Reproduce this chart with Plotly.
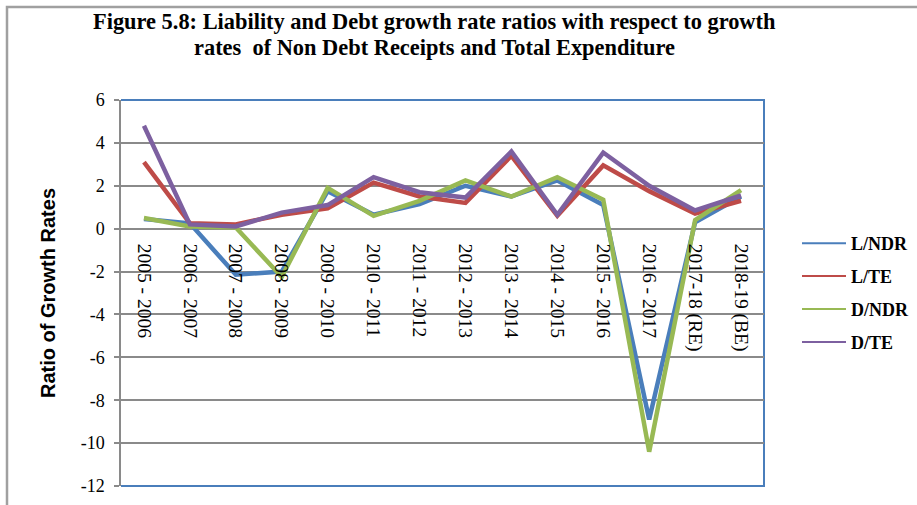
import plotly.graph_objects as go

# Financial years on the category axis
years = ["2005 - 2006", "2006 - 2007", "2007 - 2008", "2008 - 2009", "2009 - 2010",
         "2010 - 2011", "2011 - 2012", "2012 - 2013", "2013 - 2014", "2014 - 2015",
         "2015 - 2016", "2016 - 2017", "2017-18 (RE)", "2018-19 (BE)"]

# Ratio of growth rates for each series
l_ndr = [0.45, 0.25, -2.15, -2.0, 1.75, 0.65, 1.15, 2.0, 1.5, 2.25, 1.1, -8.9, 0.3, 1.5]
l_te = [3.1, 0.25, 0.2, 0.65, 0.95, 2.15, 1.5, 1.2, 3.4, 0.6, 2.95, 1.75, 0.7, 1.3]
d_ndr = [0.5, 0.1, 0.05, -2.25, 1.9, 0.6, 1.3, 2.25, 1.5, 2.4, 1.35, -10.4, 0.4, 1.8]
d_te = [4.8, 0.2, 0.1, 0.75, 1.1, 2.4, 1.7, 1.45, 3.6, 0.65, 3.55, 2.0, 0.85, 1.55]

series_names = ["L/NDR", "L/TE", "D/NDR", "D/TE"]
series_values = [l_ndr, l_te, d_ndr, d_te]
series_colors = ["#4a7ebb", "#be4b48", "#98b954", "#7d60a0"]

# y axis ticks (plain hyphen as the minus sign)
y_tick_vals = [6, 4, 2, 0, -2, -4, -6, -8, -10, -12]
y_tick_text = ["6", "4", "2", "0", "-2", "-4", "-6", "-8", "-10", "-12"]

title_lines = ["Figure 5.8: Liability and Debt growth rate ratios with respect to growth",
               "rates  of Non Debt Receipts and Total Expenditure"]

y_min, y_max = -12, 6

W, H = 917, 505
ML, MR, MT, MB = 121, 153, 100, 19
PW, PH = W - ML - MR, H - MT - MB


def px_x(p):
    return (p - ML) / PW


def px_y(p):
    return (H - MB - p) / PH


fig = go.Figure()

for name, vals, col in zip(series_names, series_values, series_colors):
    fig.add_trace(go.Scatter(x=years, y=vals, mode="lines", name=name,
                             line=dict(color=col, width=4.5), showlegend=False,
                             hoverinfo="x+y+name"))

# thin legend samples
for i, (name, col) in enumerate(zip(series_names, series_colors)):
    fig.add_trace(go.Scatter(x=[None], y=[None], mode="lines", name=name,
                             line=dict(color=col, width=2), legendgroup=f"g{i}",
                             showlegend=True))

serif = "Liberation Serif, Times New Roman, serif"

annotations = []
for text, cy in zip(title_lines, [22, 48]):
    annotations.append(dict(
        text=text, xref="paper", yref="paper", x=px_x(434), y=px_y(cy),
        xanchor="center", yanchor="middle", showarrow=False,
        font=dict(family=serif, size=22.4, color="black", weight="bold"),
    ))

fig.update_layout(
    width=W, height=H,
    margin=dict(l=ML, r=MR, t=MT, b=MB, autoexpand=False),
    paper_bgcolor="white", plot_bgcolor="white",
    annotations=annotations,
    xaxis=dict(
        type="category", range=[-0.5, len(years) - 0.5],
        anchor="free", position=(0 - y_min) / (y_max - y_min),
        tickangle=90, showgrid=False, showline=False, zeroline=False,
        ticks="", ticklabelstandoff=14, automargin=False,
        tickfont=dict(family=serif, size=19.5, color="black"),
    ),
    yaxis=dict(
        range=[y_min, y_max], tickvals=y_tick_vals, ticktext=y_tick_text,
        showgrid=True, gridcolor="#8a8a8a", gridwidth=1.5,
        zeroline=False, showline=True, linecolor="#8a8a8a", linewidth=1.5,
        ticks="outside", ticklen=5, tickcolor="#8a8a8a", tickwidth=1.5,
        ticklabelstandoff=6, automargin=False,
        tickfont=dict(family=serif, size=18, color="black"),
        title=dict(text="Ratio of Growth Rates", standoff=20,
                   font=dict(family="Liberation Sans, Arial, sans-serif", size=20,
                             color="black", weight="bold")),
    ),
    legend=dict(
        x=px_x(797), y=px_y(225), xanchor="left", yanchor="top",
        traceorder="grouped", tracegroupgap=6.5, itemwidth=44,
        font=dict(family=serif, size=18, color="black", weight="bold"),
        bgcolor="rgba(0,0,0,0)",
    ),
    shapes=[
        # blue frame on the top, right and bottom of the plot area
        dict(type="path", xref="paper", yref="paper",
             path="M 0,1 L 1,1 L 1,0 L 0,0",
             line=dict(color="#4a7ebb", width=2), layer="below"),
        # outer chart border
        dict(type="path", xref="paper", yref="paper",
             path=f"M {px_x(7)},{px_y(515)} L {px_x(7)},{px_y(7)} L {px_x(925)},{px_y(7)}",
             line=dict(color="#a0a0a0", width=2.5), layer="below"),
    ],
)

fig.write_html("out.html")
